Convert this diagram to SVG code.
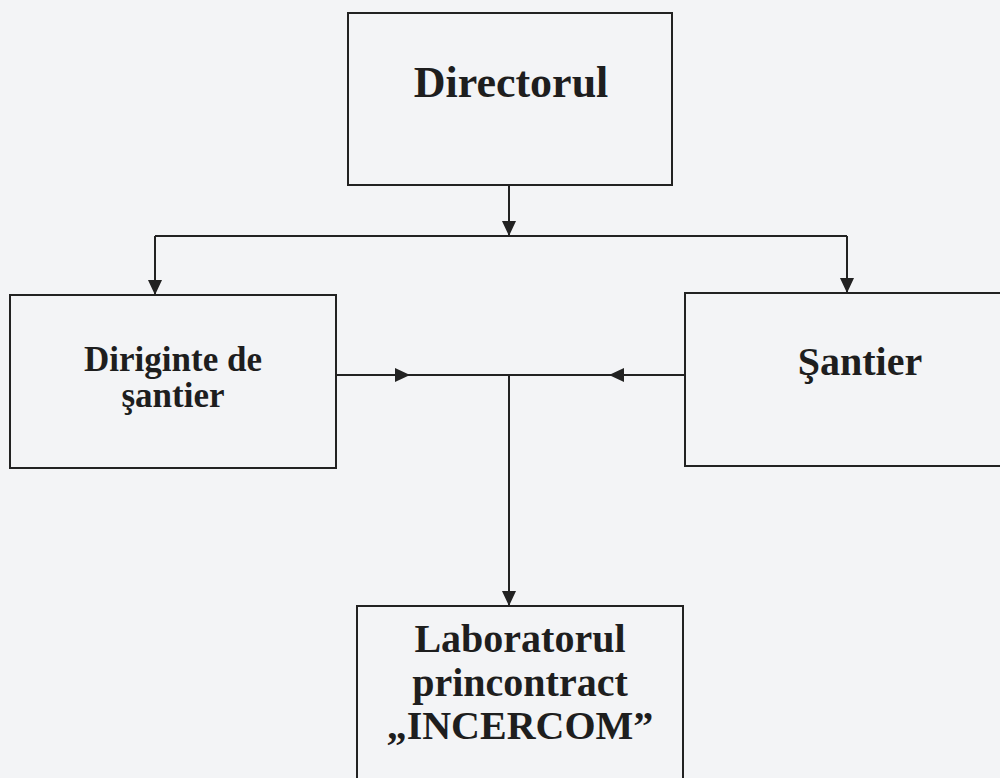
<svg xmlns="http://www.w3.org/2000/svg" width="1000" height="778" viewBox="0 0 1000 778">
<style>
.box{fill:none;stroke:#222;stroke-width:2}
.ln{fill:none;stroke:#222;stroke-width:2}
.t{font-family:"Liberation Serif","Times New Roman",serif;font-weight:bold;fill:#1e1e1e;text-anchor:middle}
</style>
<defs>
<marker id="ah" markerUnits="userSpaceOnUse" markerWidth="16" markerHeight="15" refX="15" refY="7" orient="auto">
<path d="M0,0 L15,7 L0,14 z" fill="#222"/>
</marker>
</defs>
<rect x="0" y="0" width="1000" height="778" fill="#f3f4f6"/>
<g id="connectors">
<path class="ln" d="M509,185 V236" marker-end="url(#ah)"/>
<path class="ln" d="M155,236 H847"/>
<path class="ln" d="M155,236 V295" marker-end="url(#ah)"/>
<path class="ln" d="M847,236 V293" marker-end="url(#ah)"/>
<path class="ln" d="M336,375 H410" marker-end="url(#ah)"/>
<path class="ln" d="M685,375 H609" marker-end="url(#ah)"/>
<path class="ln" d="M405,375 H614"/>
<path class="ln" d="M509,375 V606" marker-end="url(#ah)"/>
</g>
<g id="directorul">
<rect class="box" x="348" y="13" width="324" height="172"/>
<text class="t" x="511" y="97" font-size="44">Directorul</text>
</g>
<g id="diriginte">
<rect class="box" x="10" y="295" width="326" height="173"/>
<text class="t" x="173" y="371" font-size="35">Diriginte de</text>
<text class="t" x="173" y="407" font-size="35">şantier</text>
</g>
<g id="santier">
<rect class="box" x="685" y="293" width="330" height="173"/>
<text class="t" x="860" y="375" font-size="40">Şantier</text>
</g>
<g id="laborator">
<rect class="box" x="357" y="606" width="326" height="190"/>
<text class="t" x="520" y="652" font-size="40">Laboratorul</text>
<text class="t" x="520" y="696" font-size="40">princontract</text>
<text class="t" x="520" y="739" font-size="40">„INCERCOM”</text>
</g>
</svg>
